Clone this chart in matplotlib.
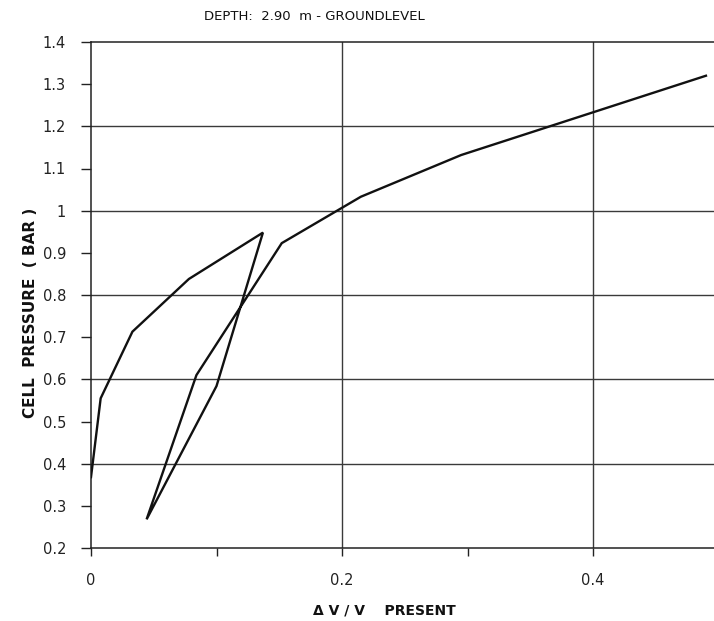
import matplotlib
matplotlib.use("Agg")
import matplotlib.pyplot as plt

# Data
dv_v = [0.0, 0.0077, 0.033, 0.078, 0.137, 0.100, 0.0443, 0.084, 0.152, 0.215, 0.295, 0.490]
cell_pressure = [0.368, 0.555, 0.713, 0.838, 0.948, 0.584, 0.268, 0.610, 0.923, 1.033, 1.132, 1.320]

y_ticks = [0.2, 0.3, 0.4, 0.5, 0.6, 0.7, 0.8, 0.9, 1.0, 1.1, 1.2, 1.3, 1.4]
y_labels = ["0.2", "0.3", "0.4", "0.5", "0.6", "0.7", "0.8", "0.9", "1", "1.1", "1.2", "1.3", "1.4"]
x_ticks = [0.0, 0.1, 0.2, 0.3, 0.4]
x_labels = ["0", "", "0.2", "", "0.4"]
h_grid = [0.4, 0.6, 0.8, 1.0, 1.2]
v_grid = [0.2, 0.4]

plt.rcParams['font.family'] = ['DejaVu Sans']

fig = plt.figure(figsize=(7.14, 6.21), dpi=100)
ax = fig.add_axes([91/714, 1 - 548/621, 1 - 91/714, (548 - 42)/621])

grid_col = "#3a3a3a"
for yv in h_grid:
    ax.axhline(yv, color=grid_col, lw=1.0, zorder=1)
for xv in v_grid:
    ax.axvline(xv, color=grid_col, lw=1.0, zorder=1)

ax.plot(dv_v, cell_pressure, color="#111111", lw=1.7, zorder=3, solid_joinstyle="miter")

ax.set_xlim(0, (714 - 91) / 1255)
ax.set_ylim(0.2, 1.4)

ax.spines["right"].set_visible(False)
for side in ["left", "bottom", "top"]:
    ax.spines[side].set_color("#222222")
    ax.spines[side].set_linewidth(1.1)

ax.set_yticks(y_ticks)
ax.set_yticklabels(y_labels)
ax.set_xticks(x_ticks)
ax.set_xticklabels(x_labels)
ax.tick_params(axis="y", direction="out", length=7, width=1.0, pad=11,
               labelsize=10.5, colors="#222222")
ax.tick_params(axis="x", direction="out", length=6, width=1.0, pad=12,
               labelsize=10.5, colors="#222222")

fig.text(314/714, 1 - 17/621, "DEPTH:  2.90  m - GROUNDLEVEL", ha="center", va="center",
         fontsize=9.5, color="#111111")
fig.text(31/714, 1 - 313/621, "CELL  PRESSURE  ( BAR )", rotation=90, ha="center", va="center",
         fontsize=11, fontweight="bold", color="#111111")
fig.text(384/714, 1 - 610/621, "Δ V / V    PRESENT", ha="center", va="center",
         fontsize=10, fontweight="bold", color="#111111")

fig.savefig("out.png", dpi=100)
